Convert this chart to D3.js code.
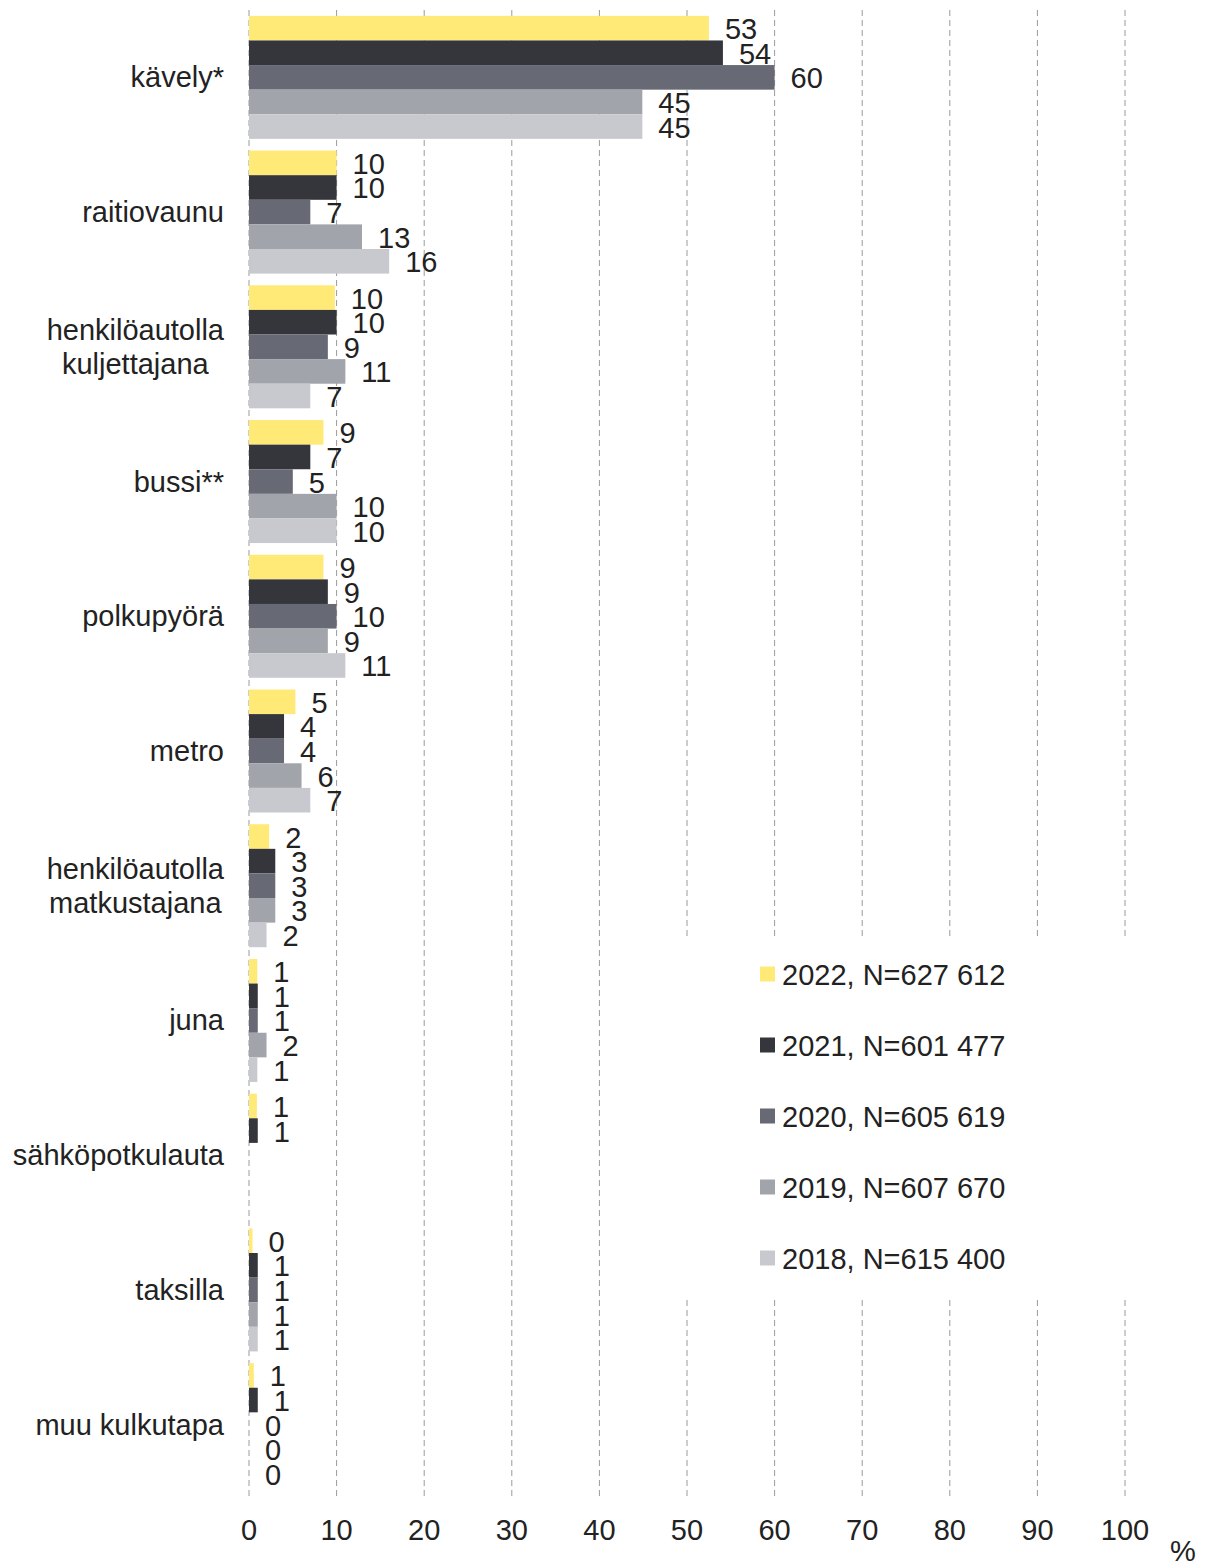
<!DOCTYPE html>
<html>
<head>
<meta charset="utf-8">
<script src="https://cdn.jsdelivr.net/npm/d3@7"></script>
<style>
  body { margin: 0; background: #fff; }
  text { font-family: "Liberation Sans", Arial, sans-serif; fill: #222; }
</style>
</head>
<body>
<div class="chart"></div>
<script>
// Data
var categories = ["kävely*", "raitiovaunu", "henkilöautolla\nkuljettajana", "bussi**", "polkupyörä",
  "metro", "henkilöautolla\nmatkustajana", "juna", "sähköpotkulauta", "taksilla", "muu kulkutapa"];
var years = ["2022", "2021", "2020", "2019", "2018"];
var legendLabels = ["2022, N=627 612", "2021, N=601 477", "2020, N=605 619", "2019, N=607 670", "2018, N=615 400"];
var v2022 = [52.5, 10.0, 9.8, 8.5, 8.5, 5.3, 2.3, 0.95, 0.9, 0.4, 0.55];
var v2021 = [54.1, 10.0, 10.0, 7.0, 9.0, 4.0, 3.0, 1.0, 1.0, 1.0, 1.0];
var v2020 = [60.0, 7.0, 9.0, 5.0, 10.0, 4.0, 3.0, 1.0, null, 1.0, 0];
var v2019 = [44.9, 12.9, 11.0, 10.0, 9.0, 6.0, 3.0, 2.0, null, 1.0, 0];
var v2018 = [44.9, 16.0, 7.0, 10.0, 11.0, 7.0, 2.0, 0.95, null, 1.0, 0];
var xTicks = [0, 10, 20, 30, 40, 50, 60, 70, 80, 90, 100];
var colors = ["#ffe977", "#35363b", "#676974", "#a2a4ac", "#c8c9ce"];

var seriesValues = [v2022, v2021, v2020, v2019, v2018];

var svgWidth = 1207, svgHeight = 1565;
var plot = { left: 249, right: 1125, top: 10, bottom: 1492 };
var fontSize = "29px";

var svg = d3.select(".chart").append("svg")
  .attr("width", svgWidth)
  .attr("height", svgHeight);

var x = d3.scaleLinear().domain([0, 100]).range([plot.left, plot.right]);
var y = d3.scaleBand().domain(categories).range([plot.top, plot.bottom])
  .paddingInner(0.087).paddingOuter(0.0435);
var yInner = d3.scaleBand().domain(years).range([0, y.bandwidth()]);
var color = d3.scaleOrdinal().domain(years).range(colors);

// gridlines (dashed, incl. zero line)
svg.append("g").selectAll("line")
  .data(xTicks)
  .enter().append("line")
  .attr("x1", function(d) { return x(d); })
  .attr("x2", function(d) { return x(d); })
  .attr("y1", plot.top)
  .attr("y2", plot.bottom + 4)
  .attr("stroke", "#9a9a9a")
  .attr("stroke-width", 1)
  .attr("stroke-dasharray", "6,4");

// rows of bars
var rows = [];
categories.forEach(function(c, i) {
  years.forEach(function(yr, j) {
    rows.push({ cat: c, year: yr, value: seriesValues[j][i] });
  });
});
var present = rows.filter(function(d) { return d.value !== null; });

svg.append("g").selectAll("rect")
  .data(present)
  .enter().append("rect")
  .attr("x", x(0))
  .attr("y", function(d) { return y(d.cat) + yInner(d.year); })
  .attr("width", function(d) { return x(d.value) - x(0); })
  .attr("height", yInner.bandwidth())
  .attr("fill", function(d) { return color(d.year); });

// value labels
var fmt = d3.format(".0f");
svg.append("g").selectAll("text")
  .data(present)
  .enter().append("text")
  .attr("x", function(d) { return x(d.value) + 16; })
  .attr("y", function(d) { return y(d.cat) + yInner(d.year) + yInner.bandwidth() / 2 + 1; })
  .attr("dominant-baseline", "central")
  .attr("font-size", fontSize)
  .text(function(d) { return fmt(d.value); });

// category labels (multi-line ones are centred inside a right-aligned block)
categories.forEach(function(c) {
  var lines = c.split("\n");
  var cy = y(c) + y.bandwidth() / 2;
  var g = svg.append("g");
  var t = g.selectAll("text").data(lines).enter().append("text")
    .attr("font-size", fontSize)
    .attr("dominant-baseline", "central")
    .attr("y", function(d, k) { return cy + (k - (lines.length - 1) / 2) * 34; })
    .text(function(d) { return d; });
  if (lines.length === 1) {
    t.attr("x", 224).attr("text-anchor", "end");
  } else {
    var maxW = 0;
    t.each(function() { maxW = Math.max(maxW, this.getComputedTextLength()); });
    t.attr("x", 224 - maxW / 2).attr("text-anchor", "middle");
  }
});

// x axis tick labels
svg.append("g").selectAll("text")
  .data(xTicks)
  .enter().append("text")
  .attr("x", function(d) { return x(d); })
  .attr("y", 1530)
  .attr("text-anchor", "middle")
  .attr("dominant-baseline", "central")
  .attr("font-size", fontSize)
  .text(function(d) { return d; });

svg.append("text")
  .attr("x", 1183)
  .attr("y", 1551)
  .attr("text-anchor", "middle")
  .attr("dominant-baseline", "central")
  .attr("font-size", fontSize)
  .text("%");

// legend with white background over the gridlines
var legend = svg.append("g");
legend.append("rect")
  .attr("x", 680).attr("y", 939)
  .attr("width", 460).attr("height", 358)
  .attr("fill", "#fff");
var items = legend.selectAll("g.item")
  .data(years)
  .enter().append("g")
  .attr("class", "item")
  .attr("transform", function(d, i) { return "translate(760," + (974 + i * 71) + ")"; });
items.append("rect")
  .attr("x", 0).attr("y", -7.5)
  .attr("width", 15).attr("height", 15)
  .attr("fill", function(d) { return color(d); });
items.append("text")
  .attr("x", 22)
  .attr("y", 1)
  .attr("dominant-baseline", "central")
  .attr("font-size", fontSize)
  .text(function(d, i) { return legendLabels[i]; });
</script>
</body>
</html>
